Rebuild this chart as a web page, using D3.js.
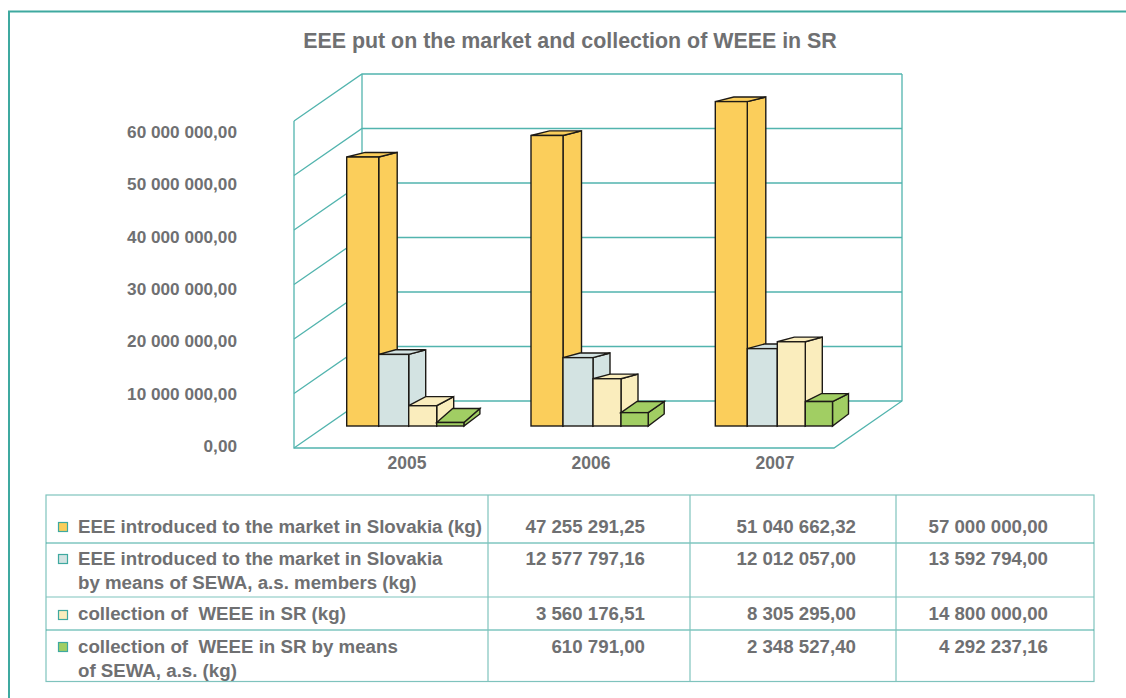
<!DOCTYPE html>
<html><head><meta charset="utf-8">
<script src="https://cdn.jsdelivr.net/npm/d3@7"></script>
<style>html,body{margin:0;padding:0;background:#fff}svg{display:block}text{font-family:"Liberation Sans",Arial,sans-serif;font-weight:bold;fill:#6f7072}</style>
</head><body><div id="c"></div>
<script>
const title = "EEE put on the market and collection of WEEE in SR";
const years = ["2005","2006","2007"];
const tickValues = [0,10000000,20000000,30000000,40000000,50000000,60000000];
const tickLabels = ["0,00","10 000 000,00","20 000 000,00","30 000 000,00","40 000 000,00","50 000 000,00","60 000 000,00"];
const seriesNames = [
  ["EEE introduced to the market in Slovakia (kg)"],
  ["EEE introduced to the market in Slovakia","by means of SEWA, a.s. members (kg)"],
  ["collection of  WEEE in SR (kg)"],
  ["collection of  WEEE in SR by means","of SEWA, a.s. (kg)"]
];
const eeeMarket = [47255291.25,51040662.32,57000000.00];
const eeeSewa = [12577797.16,12012057.00,13592794.00];
const weeeCollection = [3560176.51,8305295.00,14800000.00];
const weeeSewa = [610791.00,2348527.40,4292237.16];
const seriesValues = [eeeMarket,eeeSewa,weeeCollection,weeeSewa];
const tableText = [
  ["47 255 291,25","51 040 662,32","57 000 000,00"],
  ["12 577 797,16","12 012 057,00","13 592 794,00"],
  ["3 560 176,51","8 305 295,00","14 800 000,00"],
  ["610 791,00","2 348 527,40","4 292 237,16"]
];
const colors = ["#fbce5b","#d3e3e2","#faedbd","#a1ce63"];

const W=1126,H=698, grid="#52b4ae", ink="#1d1a16";
const svg=d3.select("#c").append("svg").attr("width",W).attr("height",H);

// frame
svg.append("path").attr("d","M9,698V11.5H1126").attr("fill","none").attr("stroke","#3fa9a0").attr("stroke-width",2);
svg.append("text").attr("x",570).attr("y",48).attr("text-anchor","middle").style("font-size","21.4px").text(title);

// walls
const wallDX=68, wallDY=47;
const backY=d3.scaleLinear().domain([0,60000000]).range([401,74]);
const xL=294,xR=834;
const wall=svg.append("g").attr("fill","none").attr("stroke",grid).attr("stroke-width",1.3);
tickValues.forEach(v=>{
  const y=backY(v);
  wall.append("path").attr("d",`M${xL},${y+wallDY}L${xL+wallDX},${y}H${xR+wallDX}`);
});
wall.append("path").attr("d",`M${xL},${backY(60000000)+wallDY}V${backY(0)+wallDY}H${xR}L${xR+wallDX},${backY(0)}V${backY(60000000)}`);
wall.append("path").attr("d",`M${xL+wallDX},${backY(60000000)}V${backY(0)}`);

// axis labels
const labelY=d3.scaleLinear().domain([0,60000000]).range([446,132]);
svg.append("g").selectAll("text").data(tickValues).join("text")
  .attr("x",237).attr("y",d=>labelY(d)+6).attr("text-anchor","end").style("font-size","17.2px")
  .text((d,i)=>tickLabels[i]);
const yearLabelX=d3.scalePoint().domain(years).range([407,775]);
svg.append("g").selectAll("text").data(years).join("text")
  .attr("x",d=>yearLabelX(d)).attr("y",468.5).attr("text-anchor","middle").style("font-size","17.5px").text(d=>d);

// bars
const barY=d3.scaleLinear().domain([0,60000000]).range([426,84.5]);
const groupX=d3.scalePoint().domain(years).range([346.7,715.3]);
const barW=[32,30,28,27.2], barDX=[18.5,17,17,16];
const depthRise=v=>Math.max(4.6,15-1.65*v/1e6);
const bars=svg.append("g").attr("stroke",ink).attr("stroke-width",1.4).attr("stroke-linejoin","miter");
years.forEach((yr,g)=>{
  let x=groupX(yr);
  seriesValues.forEach((vals,s)=>{
    const v=vals[g],w=barW[s],dx=barDX[s],dy=depthRise(v),top=barY(v),base=barY(0),baseBack=base-12;
    const c=colors[s];
    bars.append("path").attr("fill",c).attr("d",`M${x+w},${base}V${top}l${dx},${-dy}V${Math.max(baseBack,top-dy+1.5)}Z`);
    bars.append("path").attr("fill",c).attr("d",`M${x},${top}l${dx},${-dy}h${w}l${-dx},${dy}Z`);
    bars.append("rect").attr("fill",c).attr("x",x).attr("y",top).attr("width",w).attr("height",base-top);
    x+=w;
  });
});

// table
const tb=svg.append("g");
const tBorder="#7fc3bd", tInner="#3fa9a0";
tb.append("rect").attr("x",46).attr("y",495).attr("width",1048).attr("height",186.5).attr("fill","none").attr("stroke",tBorder).attr("stroke-width",1.2);
[543,630].forEach(y=>tb.append("line").attr("x1",46).attr("x2",1094).attr("y1",y).attr("y2",y).attr("stroke",tInner).attr("stroke-width",1));
tb.append("line").attr("x1",46).attr("x2",1094).attr("y1",597).attr("y2",597).attr("stroke",tBorder).attr("stroke-width",1.2);
[488,690,896].forEach(x=>tb.append("line").attr("x1",x).attr("x2",x).attr("y1",495).attr("y2",681.5).attr("stroke",tBorder).attr("stroke-width",1.2));
const rowBase=[533,565,620,653], lineGap=24, swatchY=[527,559,615,647], colRight=[645,856,1048];
seriesNames.forEach((lines,i)=>{
  tb.append("rect").attr("x",58.5).attr("y",swatchY[i]-4.5).attr("width",9).attr("height",9).attr("fill",colors[i]).attr("stroke","#3fa9a0").attr("stroke-width",1.2);
  lines.forEach((t,k)=>tb.append("text").attr("x",78).attr("y",rowBase[i]+k*lineGap).style("font-size","18.7px").style("white-space","pre").attr("xml:space","preserve").text(t));
  tableText[i].forEach((t,j)=>tb.append("text").attr("x",colRight[j]).attr("y",rowBase[i]).attr("text-anchor","end").style("font-size","18.7px").text(t));
});
</script></body></html>
